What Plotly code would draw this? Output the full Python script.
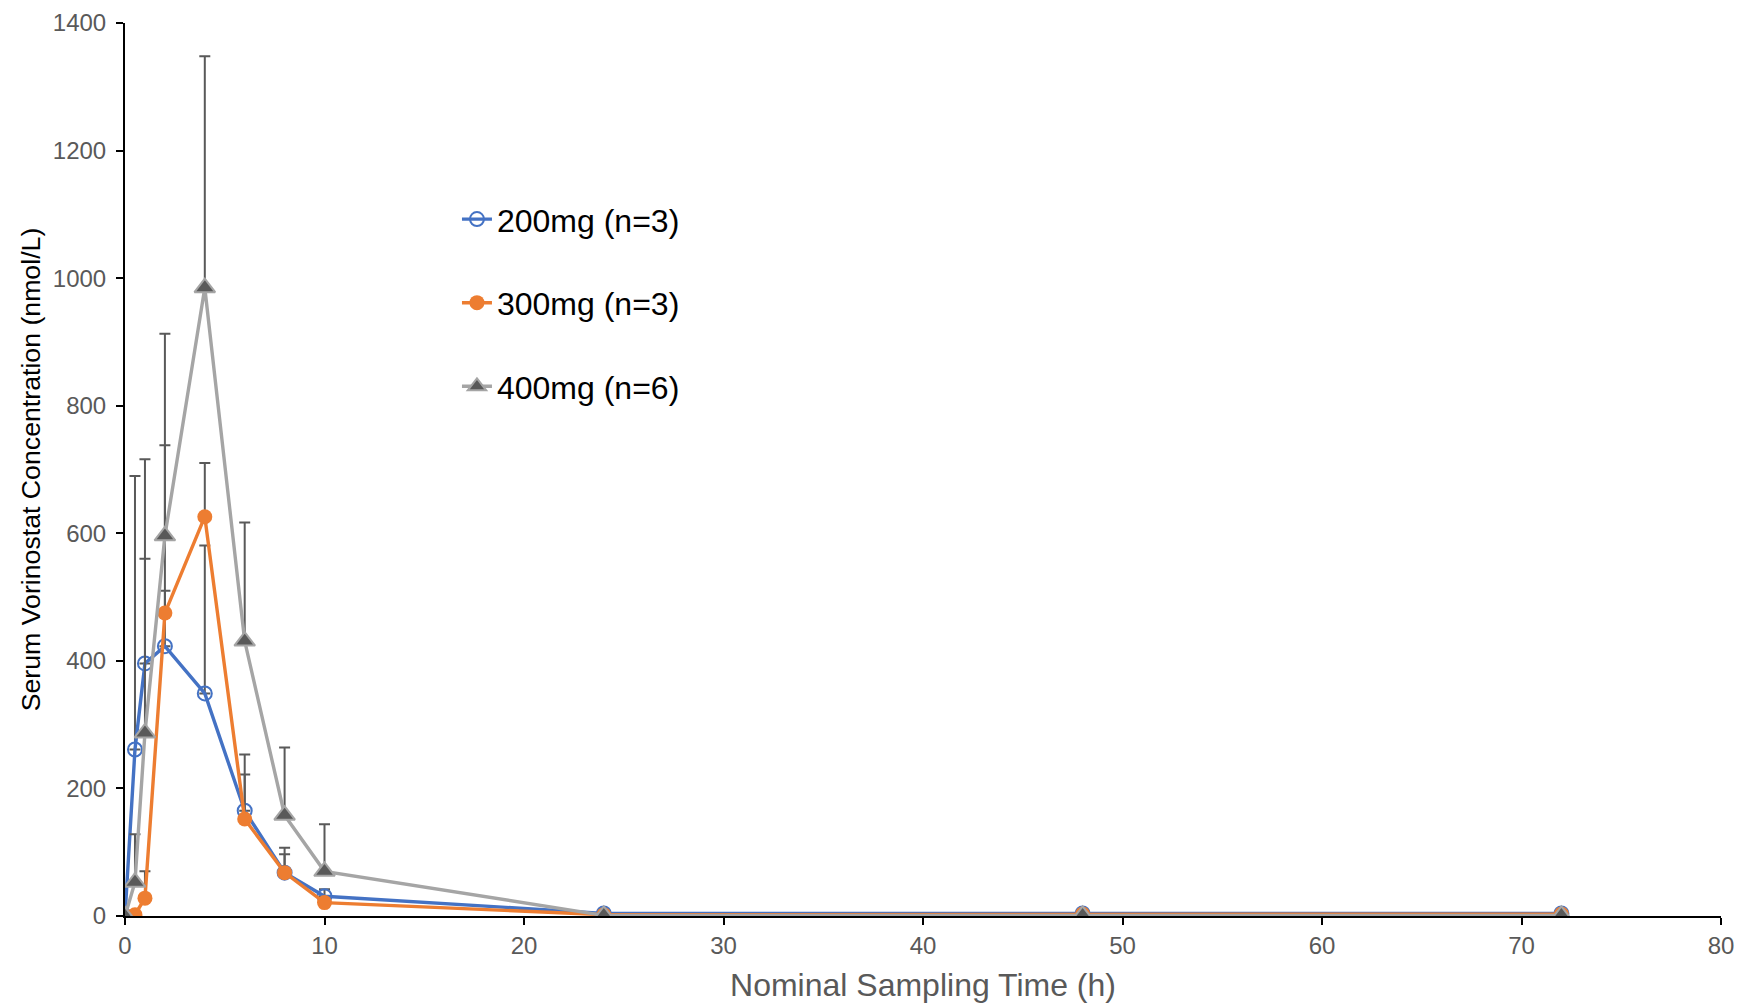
import plotly.graph_objects as go

time_h = [0, 0.5, 1, 2, 4, 6, 8, 10, 24, 48, 72]

c200 = [0, 261, 396, 423, 349, 165, 68, 31, 4, 4, 4]
sd200 = [0, 429, 164, 87, 232, 88, 39, 11, 0, 0, 0]

c300 = [0, 2, 28, 475, 626, 152, 68, 21, 2, 3, 3]
sd300 = [0, 0, 42, 263, 84, 70, 29, 4, 0, 0, 0]

c400 = [0, 53, 287, 596, 985, 431, 158, 70, 1, 1, 1]
sd400 = [0, 75, 429, 317, 363, 186, 106, 74, 0, 0, 0]

names = ["200mg (n=3)", "300mg (n=3)", "400mg (n=6)"]
y_ticks = [0, 200, 400, 600, 800, 1000, 1200, 1400]
x_ticks = [0, 10, 20, 30, 40, 50, 60, 70, 80]

FONT = "Arial, Liberation Sans, sans-serif"
ERR_COLOR = "#595959"

fig = go.Figure()

def err(sd):
    return dict(type="data", array=sd, arrayminus=[0] * len(sd), symmetric=False,
                color=ERR_COLOR, thickness=2, width=5.5, visible=True)

fig.add_trace(go.Scatter(
    x=time_h, y=c200, name=names[0], mode="lines+markers", legendgroup="a",
    line=dict(color="#4472C4", width=3.4),
    marker=dict(symbol="circle-open", size=14, color="#4472C4", line=dict(width=2, color="#4472C4")),
    error_y=err(sd200),
))
fig.add_trace(go.Scatter(
    x=time_h, y=c300, name=names[1], mode="lines+markers", legendgroup="b",
    line=dict(color="#ED7D31", width=3.4),
    marker=dict(symbol="circle", size=15, color="#ED7D31", line=dict(width=0)),
    error_y=err(sd300),
))
fig.add_trace(go.Scatter(
    x=time_h, y=c400, name=names[2], mode="lines+markers", legendgroup="c",
    line=dict(color="#A5A5A5", width=3.4),
    marker=dict(symbol="triangle-up", size=18, color="#595959", line=dict(width=2, color="#A5A5A5")),
    error_y=err(sd400),
))

fig.update_layout(
    width=1740, height=1000,
    margin=dict(l=117, r=27, t=15, b=91.5, pad=0, autoexpand=False),
    paper_bgcolor="white", plot_bgcolor="white",
    font=dict(family=FONT, color="#595959"),
    showlegend=True,
    legend=dict(
        x=0.208, y=0.811, xanchor="left", yanchor="top",
        font=dict(size=32, color="black", family=FONT),
        traceorder="grouped", tracegroupgap=39,
        bgcolor="rgba(0,0,0,0)", borderwidth=0,
    ),
    xaxis=dict(
        range=[0, 80], tickvals=x_ticks, ticktext=[str(v) for v in x_ticks],
        automargin=False, ticklabeloverflow="allow",
        showgrid=False, zeroline=False, showline=True, linecolor="black", linewidth=2,
        ticks="outside", ticklen=7, tickwidth=1.5, tickcolor="black",
        tickfont=dict(size=24, color="#595959", family=FONT),
        title=dict(text="Nominal Sampling Time (h)", font=dict(size=32, color="#595959", family=FONT), standoff=16),
    ),
    yaxis=dict(
        range=[0, 1400], tickvals=y_ticks, ticktext=[str(v) for v in y_ticks],
        automargin=False, ticklabeloverflow="allow",
        showgrid=False, zeroline=False, showline=True, linecolor="black", linewidth=2,
        ticks="outside", ticklen=7, tickwidth=1.5, tickcolor="black",
        tickfont=dict(size=24, color="#595959", family=FONT),
        ticklabelstandoff=5,
        title=dict(text="Serum Vorinostat Concentration (nmol/L)", font=dict(size=26.7, color="black", family=FONT), standoff=4.5),
    ),
)

fig.write_html("out.html")
